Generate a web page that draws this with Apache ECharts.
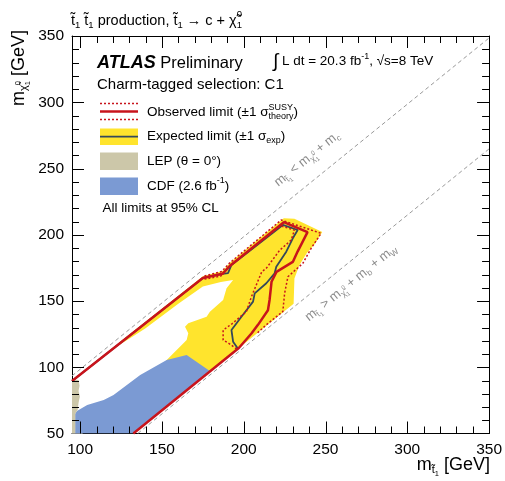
<!DOCTYPE html>
<html>
<head>
<meta charset="utf-8">
<script src="https://cdn.jsdelivr.net/npm/echarts@6/dist/echarts.min.js"></script>
<style>html,body{margin:0;padding:0;background:#fff}#chart{width:505px;height:481px}</style>
</head>
<body>
<div id="chart"></div>
<script>
var FONT = '"Liberation Sans", Arial, Helvetica, sans-serif';

// tick values
var xMajor = [100, 150, 200, 250, 300, 350];
var xMinor = [110, 120, 130, 140, 160, 170, 180, 190, 210, 220, 230, 240, 260, 270, 280, 290, 310, 320, 330, 340];
var yMajor = [100, 150, 200, 250, 300];
var yMinor = [60, 70, 80, 90, 110, 120, 130, 140, 160, 170, 180, 190, 210, 220, 230, 240, 260, 270, 280, 290, 310, 320, 330, 340];

// kinematic boundaries (m_stop, m_chi)
var lineCharm = [[95, 93.5], [350, 348.5]];
var lineBW = [[135.2, 50], [350, 264.8]];

// observed limit and +-1 sigma theory
var obsLimit = [[95, 89.6], [175, 167.4], [187, 170.5], [192, 177], [224.5, 209.5], [239, 202], [233, 187.5], [230, 179.5], [220, 172], [217, 164.5], [215.8, 150.8], [214.8, 143], [208.7, 132], [204.7, 125.5], [197, 114.5], [132.5, 50]];
var obsUp = [[176, 168.8], [186.5, 172.3], [191.5, 178.8], [222.9, 211.1], [247.3, 201.1], [241.2, 189.8], [236.1, 178.4], [227, 168.3], [225, 155.8], [223.9, 142], [213.8, 132], [208, 125.5]];
var obsDown = [[176, 166.5], [186, 168.8], [190, 174.8], [222.5, 206.8], [231, 203.5], [229, 196], [222, 188.3], [214, 175], [211, 172], [204.7, 153.2], [201.6, 142], [193, 133], [187.4, 128], [187.4, 120.6], [191.5, 117.5], [196, 113.5]];

// expected limit and +-1 sigma band
var expLimit = [[95, 89.6], [175, 167.4], [187, 170.5], [190.4, 171], [192.5, 177.2], [223.9, 207.4], [233, 203.6], [230, 197.3], [226, 187.2], [219.9, 175.9], [218.9, 170.9], [213.8, 163.4], [206.7, 155.8], [205.7, 149.5], [198.6, 138.1], [192.5, 128.1], [193.5, 119.3], [196.5, 114]];
var expBand = [[124, 118.8], [175, 168.6], [187, 172.6], [192, 179.4], [224.5, 212.4], [231, 212], [248, 202], [243.5, 193], [238.5, 186], [234, 177], [231, 167], [230.5, 148], [140, 57.5]];
var expHole = [[80, 74], [125, 117.8], [130, 121.5], [140, 129.5], [160, 148], [175, 161], [186, 164.3], [193.5, 165.8], [189.5, 159.6], [187.4, 150.8], [179.3, 141.9], [177.3, 138.2], [166.1, 133.2], [164.1, 130.6], [166.1, 125.6], [165.1, 120.6], [152.9, 105.5], [150, 101], [135, 86], [115, 68], [100, 48], [80, 48]];

// earlier limits
var cdfRegion = [[96.9, 50], [96.9, 65], [98, 67], [104.3, 71.5], [114.4, 75.3], [120.4, 79.1], [136.7, 94.2], [152.9, 105.5], [165.1, 109.2], [179.5, 97], [132.5, 50]];
var lepRegion = [[95, 50], [95, 90.6], [99, 90.4], [99.6, 86], [99, 82], [99.8, 78], [99, 73], [98.5, 68], [97, 65], [97, 50]];

var RED = '#c8141c', EXPC = '#34495a', YEL = '#ffe42d', BLUE = '#7b9ad3', LEPC = '#ccc7a9', GREYC = '#8c8c8c';

var ctx = document.createElement('canvas').getContext('2d');
// lay out text pieces (sub/superscripts) one after the other
function typeset(segs, opt) {
    var cx = 0, hold = 0, kids = [];
    segs.forEach(function (sg) {
        var s = sg.s || opt.size;
        var f = (sg.st || 'normal') + ' ' + (sg.w || 'normal') + ' ' + s + 'px ' + FONT;
        ctx.font = f;
        var w = ctx.measureText(sg.t).width;
        kids.push({
            type: 'text', x: cx, y: sg.dy || 0,
            style: {text: sg.t, font: f, fill: opt.color || '#000', align: 'left', textAlign: 'left', verticalAlign: 'middle', textVerticalAlign: 'middle'}
        });
        if (sg.hold) { hold = Math.max(hold, w); } else { cx += Math.max(w, hold); hold = 0; }
    });
    var shift = opt.align === 'right' ? -cx : (opt.align === 'center' ? -cx / 2 : 0);
    kids.forEach(function (k) { k.x += shift; });
    return {type: 'group', x: opt.x, y: opt.y, rotation: opt.rot || 0, children: kids, z: 100};
}

function polySeries(pts, color, z) {
    return {
        type: 'custom', clip: true, silent: true, z: z, data: [[100, 100]],
        renderItem: function (params, api) {
            return {type: 'polygon', shape: {points: pts.map(function (p) { return api.coord(p); })}, style: {fill: color}};
        }
    };
}
function lineSeries(pts, color, width, type, z) {
    return {type: 'line', data: pts, showSymbol: false, symbol: 'none', silent: true, z: z,
        lineStyle: {color: color, width: width, type: type}};
}
function xAx(pos, labels) {
    return {
        type: 'value', min: 95, max: 350, position: pos,
        axisLine: {show: true, onZero: false, lineStyle: {color: '#000', width: 1}},
        axisTick: {show: false},
        axisLabel: {show: labels, customValues: xMajor, margin: 8, color: '#000', fontSize: 15.5, fontFamily: FONT},
        splitLine: {show: false}, minorTick: {show: false}
    };
}
function yAx(pos, labels) {
    return {
        type: 'value', min: 50, max: 350, interval: 50, position: pos,
        axisLine: {show: true, onZero: false, lineStyle: {color: '#000', width: 1}},
        axisTick: {show: false}, minorTick: {show: false},
        axisLabel: {show: labels, margin: 8, color: '#000', fontSize: 15.5, fontFamily: FONT, showMinLabel: true, showMaxLabel: true},
        splitLine: {show: false}
    };
}

var SUB = 4.5, SUP = -5;
var graphics = [
    typeset([{t: 't\u0303'}, {t: '1', s: 9.5, dy: SUB}, {t: ' t\u0303'}, {t: '1', s: 9.5, dy: SUB}, {t: ' production, t\u0303'}, {t: '1', s: 9.5, dy: SUB},
        {t: ' \u2192 c + \u03c7\u0303'}, {t: '0', s: 9.5, dy: -6, hold: true}, {t: '1', s: 9.5, dy: SUB}], {x: 71, y: 20.5, size: 14.5}),
    typeset([{t: 'ATLAS', s: 18, w: 'bold', st: 'italic'}, {t: ' Preliminary', s: 16.5}], {x: 97, y: 63, size: 16.5}),
    typeset([{t: '\u222b', s: 19}, {t: ' L dt = 20.3 fb'}, {t: '-1', s: 9, dy: SUP}, {t: ', \u221as=8 TeV'}], {x: 273, y: 61.5, size: 13.5}),
    typeset([{t: 'Charm-tagged selection: C1'}], {x: 97, y: 85, size: 15}),
    typeset([{t: 'Observed limit (\u00b11 \u03c3'}, {t: 'SUSY', s: 9, dy: -4.5, hold: true}, {t: 'theory', s: 9, dy: 4.7}, {t: ')'}], {x: 147, y: 112, size: 13.5}),
    typeset([{t: 'Expected limit (\u00b11 \u03c3'}, {t: 'exp', s: 9, dy: 4.5}, {t: ')'}], {x: 147, y: 136.5, size: 13.5}),
    typeset([{t: 'LEP (\u03b8 = 0\u00b0)'}], {x: 147, y: 161.5, size: 13.5}),
    typeset([{t: 'CDF (2.6 fb'}, {t: '-1', s: 9, dy: SUP}, {t: ')'}], {x: 147, y: 186, size: 13.5}),
    typeset([{t: 'All limits at 95% CL'}], {x: 102.5, y: 208, size: 13.5}),
    // axis titles
    typeset([{t: 'm'}, {t: 't\u0303', s: 11, dy: 5}, {t: '1', s: 7.5, dy: 9}, {t: ' [GeV]'}], {x: 490, y: 465, size: 18, align: 'right'}),
    typeset([{t: 'm'}, {t: '\u03c7\u0303', s: 11, dy: 5}, {t: '0', s: 7.5, dy: -1, hold: true}, {t: '1', s: 7.5, dy: 9}, {t: ' [GeV]'}], {x: 19, y: 30, size: 18, align: 'right', rot: Math.PI / 2}),
    // kinematic line labels
    typeset([{t: 'm'}, {t: 't\u0303', s: 8.5, dy: 4}, {t: '1', s: 6, dy: 6.5}, {t: ' < m'}, {t: '\u03c7\u0303', s: 8.5, dy: 4}, {t: '0', s: 6, dy: -1, hold: true}, {t: '1', s: 6, dy: 7}, {t: ' + m'}, {t: 'c', s: 8.5, dy: 4}],
        {x: 307, y: 159, size: 13, align: 'center', rot: 0.679, color: GREYC}),
    typeset([{t: 'm'}, {t: 't\u0303', s: 8.5, dy: 4}, {t: '1', s: 6, dy: 6.5}, {t: ' > m'}, {t: '\u03c7\u0303', s: 8.5, dy: 4}, {t: '0', s: 6, dy: -1, hold: true}, {t: '1', s: 6, dy: 7}, {t: ' + m'}, {t: 'b', s: 8.5, dy: 4}, {t: ' + m'}, {t: 'W', s: 8.5, dy: 4}],
        {x: 351, y: 283, size: 13, align: 'center', rot: 0.679, color: GREYC}),
    // legend swatches
    {type: 'line', z: 100, shape: {x1: 100, y1: 103.5, x2: 138, y2: 103.5}, style: {stroke: RED, lineWidth: 1.5, lineDash: [2, 2]}},
    {type: 'line', z: 100, shape: {x1: 100, y1: 111.5, x2: 138, y2: 111.5}, style: {stroke: RED, lineWidth: 2.5}},
    {type: 'line', z: 100, shape: {x1: 100, y1: 119.5, x2: 138, y2: 119.5}, style: {stroke: RED, lineWidth: 1.5, lineDash: [2, 2]}},
    {type: 'rect', z: 100, shape: {x: 100, y: 128.5, width: 38, height: 16.5}, style: {fill: YEL}},
    {type: 'line', z: 100, shape: {x1: 100, y1: 136.7, x2: 138, y2: 136.7}, style: {stroke: EXPC, lineWidth: 1.8}},
    {type: 'rect', z: 100, shape: {x: 100, y: 152.5, width: 38, height: 17.5}, style: {fill: LEPC}},
    {type: 'rect', z: 100, shape: {x: 100, y: 177.5, width: 38, height: 17.5}, style: {fill: BLUE}}
];

var chart = echarts.init(document.getElementById('chart'), null, {renderer: 'canvas'});
chart.setOption({
    animation: false,
    backgroundColor: '#fff',
    grid: {left: 72, right: 14, top: 36, bottom: 47.5},
    xAxis: [xAx('bottom', true), xAx('top', false)],
    yAxis: [yAx('left', true), yAx('right', false)],
    series: [
        polySeries(expBand, YEL, 1),
        polySeries(expHole, '#fff', 2),
        polySeries(cdfRegion, BLUE, 3),
        polySeries(lepRegion, LEPC, 4),
        lineSeries(lineCharm, '#999', 1, [4, 3], 5),
        lineSeries(lineBW, '#999', 1, [4, 3], 5),
        lineSeries(expLimit, EXPC, 1.8, 'solid', 6),
        lineSeries(obsUp, RED, 1.5, [2, 2], 7),
        lineSeries(obsDown, RED, 1.5, [2, 2], 7),
        lineSeries(obsLimit, RED, 2.5, 'solid', 8)
    ]
});

// inward ticks on all four sides, placed through the chart's own scales
function px(p) { return chart.convertToPixel({gridIndex: 0}, p); }
var ticks = [];
function addTicks(vals, dim, len) {
    vals.forEach(function (v) {
        var a, b;
        if (dim === 'x') {
            a = px([v, 50]); b = px([v, 350]);
            var x = Math.round(a[0]) + 0.5;
            ticks.push({type: 'line', z: 95, shape: {x1: x, y1: a[1], x2: x, y2: a[1] - len}, style: {stroke: '#000', lineWidth: 1}});
            ticks.push({type: 'line', z: 95, shape: {x1: x, y1: b[1], x2: x, y2: b[1] + len}, style: {stroke: '#000', lineWidth: 1}});
        } else {
            a = px([95, v]); b = px([350, v]);
            var y = Math.round(a[1]) + 0.5;
            ticks.push({type: 'line', z: 95, shape: {x1: a[0], y1: y, x2: a[0] + len, y2: y}, style: {stroke: '#000', lineWidth: 1}});
            ticks.push({type: 'line', z: 95, shape: {x1: b[0], y1: y, x2: b[0] - len, y2: y}, style: {stroke: '#000', lineWidth: 1}});
        }
    });
}
addTicks(xMajor, 'x', 12);
addTicks(xMinor, 'x', 7);
addTicks(yMajor, 'y', 12);
addTicks(yMinor, 'y', 7);
chart.setOption({graphic: graphics.concat(ticks)});
</script>
</body>
</html>
